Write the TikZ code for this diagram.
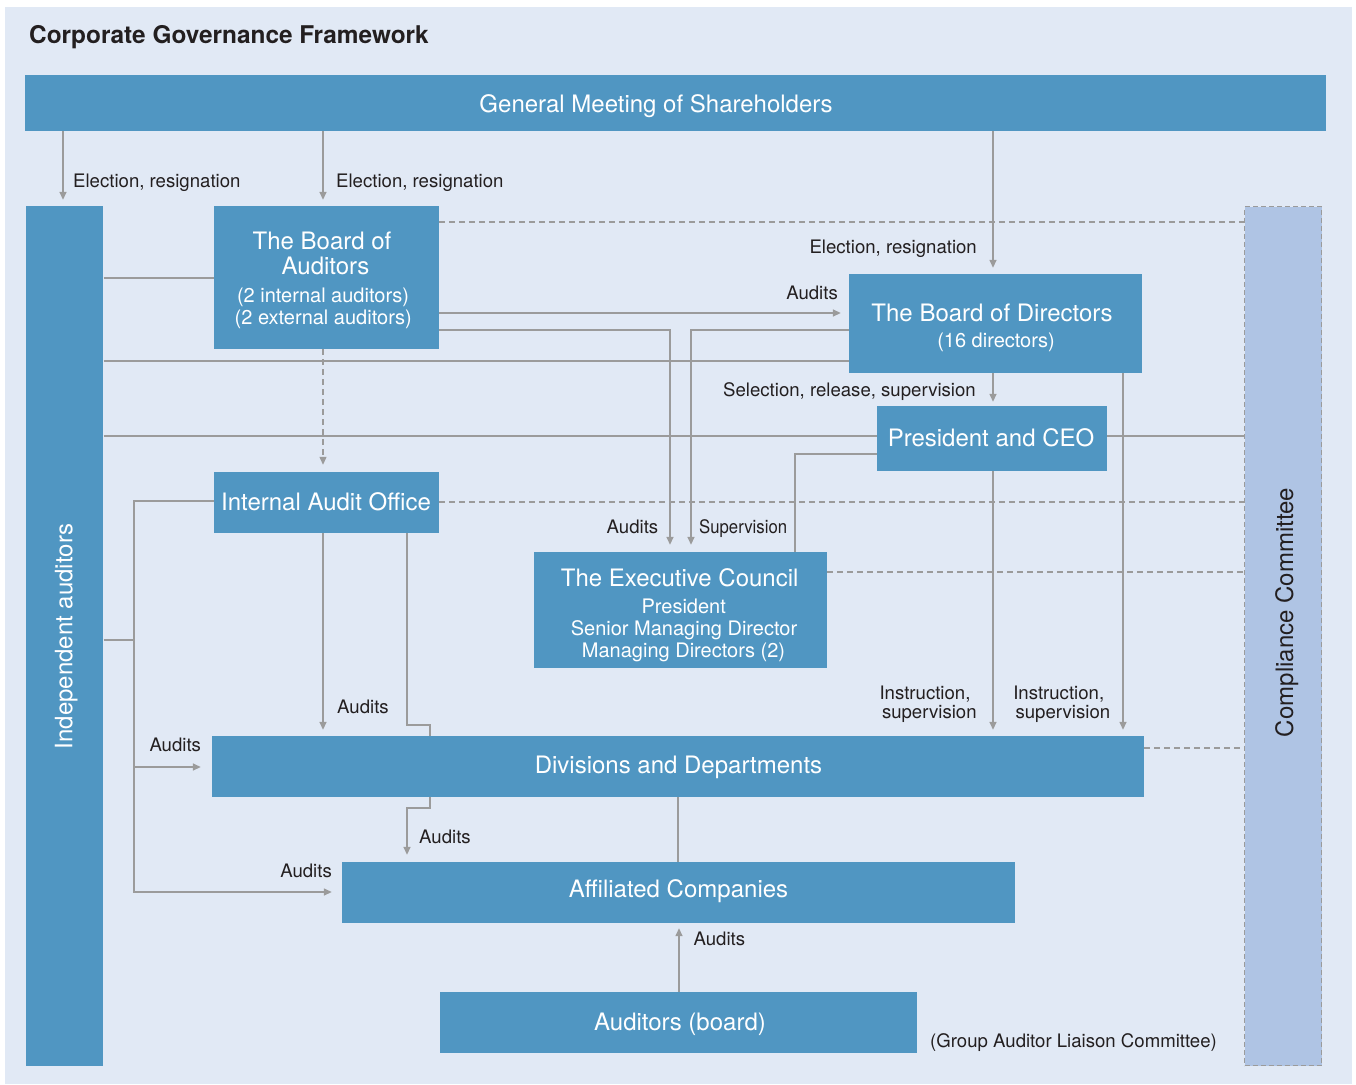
\documentclass[tikz,border=0pt]{standalone}
\usepackage{fontspec}
\usepackage{graphicx}
\setmainfont{TeX Gyre Heros}
\usetikzlibrary{arrows.meta}
\definecolor{bgc}{HTML}{E1E9F5}
\definecolor{boxc}{HTML}{5096C2}
\definecolor{ccc}{HTML}{AFC4E4}
\definecolor{linec}{HTML}{9B9B9B}
\definecolor{txtc}{HTML}{231F20}
\begin{document}
\begin{tikzpicture}[x=1pt,y=-1pt,
  bx/.style n args={2}{fill=boxc,draw=none,inner sep=0pt,minimum width=#1pt,minimum height=#2pt},
  wt/.style={text=white,inner sep=0pt,font=\fontsize{24}{28}\selectfont},
  ws/.style={text=white,inner sep=0pt,font=\fontsize{20}{24}\selectfont},
  lb/.style={text=txtc,inner sep=0pt,font=\fontsize{18.6}{22}\selectfont},
  ln/.style={draw=linec,line width=1.5pt},
  dsh/.style={line width=1.2pt,dash pattern=on 6pt off 4pt},
  ar/.style={-{Triangle[length=8pt,width=7pt]},shorten >=#1},
  ar/.default=6pt]
\useasboundingbox (0,0) rectangle (1356,1084);
\fill[white] (0,0) rectangle (1356,1084);
\fill[bgc] (5,7) rectangle (1352,1084);

% title
\node[anchor=base west,inner sep=0pt,text=txtc,font=\bfseries\fontsize{24.4}{28}\selectfont] (title) at (29,43) {Corporate Governance Framework};

% boxes
\node[bx={1301}{56}] (gm) at (675.5,103) {};
\node[bx={77.6}{860}] (ia) at (64.5,636) {};
\node[bx={225}{143}] (boa) at (326.5,277.5) {};
\node[bx={293}{99}] (bod) at (995.5,323.5) {};
\node[bx={230}{65}] (pres) at (992,438.5) {};
\node[bx={225}{61}] (iao) at (326.5,502.5) {};
\node[bx={293}{116}] (ec) at (680.5,610) {};
\node[bx={932}{61}] (dd) at (678,766.5) {};
\node[bx={673}{61}] (ac) at (678.5,892.5) {};
\node[bx={477}{61}] (ab) at (678.5,1022.5) {};
\node[fill=ccc,draw=linec,line width=1.2pt,dash pattern=on 5pt off 3pt,inner sep=0pt,minimum width=77pt,minimum height=859pt] (cc) at (1283,636) {};

% box texts
\node[wt,anchor=base] at (656,112) {General Meeting of Shareholders};
\node[wt,anchor=base,rotate=90] at (72.3,636.5) {Independent auditors};
\node[wt,anchor=base] at (322,249) {The Board of};
\node[wt,anchor=base] at (325.5,274) {Auditors};
\node[ws,anchor=base] at (323,302.5) {(2 internal auditors)};
\node[ws,anchor=base] at (323.2,324.7) {(2 external auditors)};
\node[wt,anchor=base] at (992,321) {The Board of Directors};
\node[ws,anchor=base] at (996,347) {(16 directors)};
\node[wt,anchor=base] at (991,446) {President and CEO};
\node[wt,anchor=base] at (326,510) {Internal Audit Office};
\node[wt,anchor=base] at (679.7,586) {The Executive Council};
\node[ws,anchor=base] at (683.7,613.3) {President};
\node[ws,anchor=base] at (684,635) {Senior Managing Director};
\node[ws,anchor=base] at (683.5,657.3) {Managing Directors (2)};
\node[wt,anchor=base] at (678.5,773.5) {Divisions and Departments};
\node[wt,anchor=base] at (678.5,897) {Affiliated Companies};
\node[wt,anchor=base] at (680,1030) {Auditors (board)};
\node[lb,anchor=base,rotate=90,font=\fontsize{24}{28}\selectfont] at (1293,612.5) {Compliance Committee};

% connectors
\draw[ln,ar] (gm.south -| 63,0) -- (ia.north -| 63,0);
\draw[ln,ar] (gm.south -| 323,0) -- (boa.north -| 323,0);
\draw[ln,ar] (gm.south -| 993,0) -- (bod.north -| 993,0);
\draw[ln] (ia.east |- 0,278) -- (boa.west |- 0,278);
\draw[ln] (ia.east |- 0,361) -- (bod.west |- 0,361);
\draw[ln] (ia.east |- 0,436) -- (pres.west |- 0,436);
\draw[ln] (pres.east |- 0,436) -- (cc.west |- 0,436);
\coordinate (jn) at (134.75,640);
\draw[ln] (ia.east |- jn) -- (jn);
\draw[ln,ar=8pt] (boa.east |- 0,313) -- (bod.west |- 0,313);
\draw[ln,ar=7pt] (boa.east |- 0,330) -| (ec.north -| 670,0);
\draw[ln,ar=7pt] (bod.west |- 0,330) -| (ec.north -| 691,0);
\draw[ln] (pres.west |- 0,454) -| (ec.north -| 795,0);
\draw[ln,ar=4pt] (bod.south -| 993,0) -- (pres.north -| 993,0);
\draw[ln,ar] (pres.south -| 993,0) -- (dd.north -| 993,0);
\draw[ln,ar] (bod.south -| 1123,0) -- (dd.north -| 1123,0);
\draw[ln,dsh,ar=7pt] (boa.south -| 323,0) -- (iao.north -| 323,0);
\draw[ln,ar] (iao.south -| 323,0) -- (dd.north -| 323,0);
\draw[ln] (iao.south -| 407,0) -- (407,725) -| (dd.north -| 430,0);
\draw[ln,ar=7pt] (dd.south -| 430,0) -- (430,808) -| (ac.north -| 407,0);
\draw[ln] (dd.south -| 678,0) -- (ac.north -| 678,0);
\draw[ln,ar=5pt] (ab.north -| 679,0) -- (ac.south -| 679,0);
\draw[ln,ar=10pt] (iao.west |- 0,501) -| (134,892) -- (ac.west |- 0,892);
\draw[ln,ar=11pt] (134,767) -- (dd.west |- 0,767);
\draw[ln,dsh] (boa.east |- 0,222) -- (cc.west |- 0,222);
\draw[ln,dsh] (iao.east |- 0,502) -- (cc.west |- 0,502);
\draw[ln,dsh] (ec.east |- 0,572) -- (cc.west |- 0,572);
\draw[ln,dsh] (dd.east |- 0,748) -- (cc.west |- 0,748);

% labels
\node[lb,anchor=base west] at (73,187) {Election, resignation};
\node[lb,anchor=base west] at (336,187) {Election, resignation};
\node[lb,anchor=base east] at (977,253) {Election, resignation};
\node[lb,anchor=base east] at (838,299) {Audits};
\node[lb,anchor=base east] at (976,396) {Selection, release, supervision};
\node[lb,anchor=base east] at (658.4,533) {Audits};
\node[lb,anchor=base west] at (699,533) {\scalebox{0.9}[1]{Supervision}};
\node[lb,anchor=base] at (925,699) {Instruction,};
\node[lb,anchor=base] at (929.3,718.5) {supervision};
\node[lb,anchor=base] at (1058.7,699) {Instruction,};
\node[lb,anchor=base] at (1062.9,718.5) {supervision};
\node[lb,anchor=base west] at (337,713) {Audits};
\node[lb,anchor=base west] at (149.3,751) {Audits};
\node[lb,anchor=base west] at (419,843) {Audits};
\node[lb,anchor=base east] at (332,877) {Audits};
\node[lb,anchor=base west] at (693.4,945) {Audits};
\node[lb,anchor=base west] at (930,1047) {(Group Auditor Liaison Committee)};
\end{tikzpicture}
\end{document}
